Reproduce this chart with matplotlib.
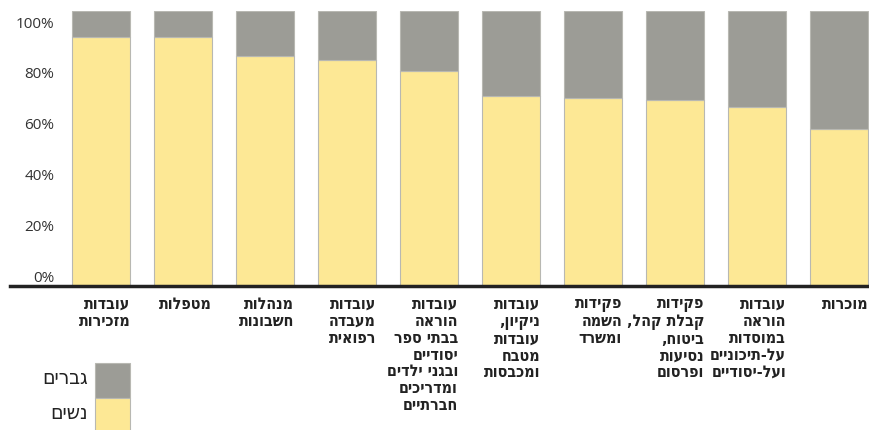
import matplotlib.pyplot as plt
from matplotlib.patches import Rectangle
from matplotlib import font_manager

# Occupations (Hebrew, one string per line) and share of women in each
occupations = [
    ["עובדות", "מזכירות"],
    ["מטפלות"],
    ["מנהלות", "חשבונות"],
    ["עובדות", "מעבדה", "רפואית"],
    ["עובדות", "הוראה", "בבתי ספר", "יסודיים", "ובגני ילדים", "ומדריכים", "חברתיים"],
    ["עובדות", "ניקיון,", "עובדות", "מטבח", "ומכבסות"],
    ["פקידות", "השמה", "ומשרד"],
    ["פקידות", "קבלת קהל,", "ביטוח,", "נסיעות", "ופרסום"],
    ["עובדות", "הוראה", "במוסדות", "על-תיכוניים", "ועל-יסודיים"],
    ["מוכרות"],
]
women = [90.7, 90.7, 83.6, 82.2, 78.2, 69.1, 68.4, 67.6, 65.1, 57.1]
men = [100 - w for w in women]
tick_values = [0, 20, 40, 60, 80, 100]
legend_labels = ["גברים", "נשים"]

YELLOW = "#fde895"
GRAY = "#9c9c96"
EDGE = "#b8b8b2"
HEB_FONT = ["DejaVu Sans"]

print(sorted({f.name + " / " + str(f.stretch) for f in font_manager.fontManager.ttflist
              if "Narrow" in f.name or "Condensed" in f.name or f.stretch != "normal"}))


def rtl(s):
    # matplotlib has no bidi support, so lay Hebrew out visually
    return s[::-1]


fig = plt.figure(figsize=(8.7, 4.3), dpi=100)
ax = fig.add_axes([10 / 870, 144 / 430, 860 / 870, 275 / 430])

x = list(range(len(women)))
width = 0.71
ax.bar(x, women, width=width, color=YELLOW, edgecolor=EDGE, linewidth=0.8)
ax.bar(x, men, width=width, bottom=women, color=GRAY, edgecolor=EDGE, linewidth=0.8)

ax.set_xlim(-1.11, 9.378)
ax.set_ylim(0, 100)

for s in ["top", "right", "left"]:
    ax.spines[s].set_visible(False)
ax.spines["bottom"].set_linewidth(2.5)
ax.spines["bottom"].set_color("#222222")
ax.set_xticks([])

# percent labels sit inside the plot, slightly squeezed toward the middle
ax.set_yticks([3.3 + v * 0.927 for v in tick_values])
ax.set_yticklabels([f"{v}%" for v in tick_values], fontsize=11,
                   color="#333333", family="Open Sans")
ax.tick_params(axis="y", length=0, pad=-32)

# occupation names under each bar, right aligned to the bar edge
for i, lines in enumerate(occupations):
    label = "\n".join(rtl(l) for l in lines)
    ax.annotate(label, xy=(i + width / 2, 0), xycoords=("data", "axes fraction"),
                xytext=(0, -8), textcoords="offset points",
                ha="right", va="top", multialignment="right",
                fontsize=11.5, fontweight="bold", fontstretch="condensed",
                family=HEB_FONT, linespacing=1.15, color="#222222")

# legend boxes in the lower left corner
fig.patches.append(Rectangle((95 / 870, 32 / 430), 35 / 870, 35 / 430,
                             transform=fig.transFigure, facecolor=GRAY,
                             edgecolor=EDGE, linewidth=0.8))
fig.patches.append(Rectangle((95 / 870, -3 / 430), 35 / 870, 35 / 430,
                             transform=fig.transFigure, facecolor=YELLOW,
                             edgecolor=EDGE, linewidth=0.8))
fig.text(88 / 870, 52 / 430, rtl(legend_labels[0]), ha="right", va="center",
         fontsize=15, fontstretch="condensed", family=HEB_FONT, color="#222222")
fig.text(88 / 870, 17 / 430, rtl(legend_labels[1]), ha="right", va="center",
         fontsize=15, fontstretch="condensed", family=HEB_FONT, color="#222222")

fig.savefig("out.png", dpi=100)
